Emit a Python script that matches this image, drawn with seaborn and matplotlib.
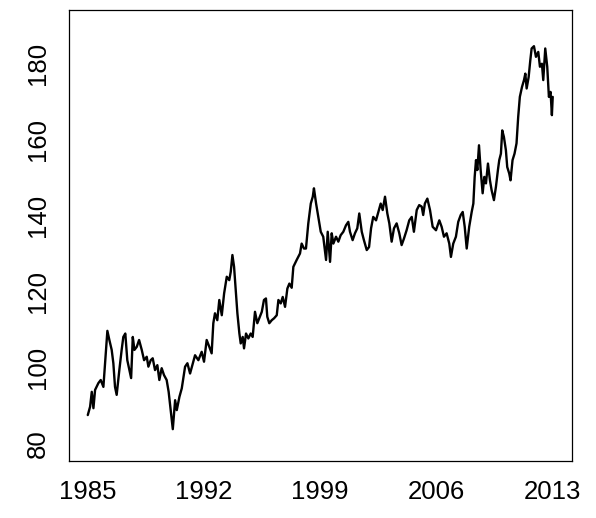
import seaborn as sns
import matplotlib
matplotlib.use("Agg")
import matplotlib.pyplot as plt

# values (year, index level)
years = [
    1985.00, 1985.14, 1985.24, 1985.34, 1985.44, 1985.64, 1985.78, 1985.94,
    1986.04, 1986.18, 1986.30, 1986.44, 1986.54, 1986.64, 1986.74, 1986.90,
    1987.04, 1987.14, 1987.26, 1987.38, 1987.51, 1987.61, 1987.71, 1987.81, 1987.95,
    1988.09, 1988.25, 1988.39, 1988.55, 1988.65, 1988.79, 1988.91,
    1989.05, 1989.19, 1989.31, 1989.45, 1989.59, 1989.75, 1989.87, 1989.99,
    1990.12, 1990.26, 1990.36, 1990.52, 1990.66, 1990.86,
    1991.00, 1991.16, 1991.46, 1991.66, 1991.86,
    1992.00, 1992.16, 1992.32, 1992.46, 1992.56, 1992.66, 1992.80, 1992.92,
    1993.07, 1993.21, 1993.37, 1993.52, 1993.61, 1993.71, 1993.81, 1993.91,
    1994.01, 1994.13, 1994.21, 1994.33, 1994.41, 1994.53, 1994.67, 1994.81, 1994.93,
    1995.07, 1995.21, 1995.33, 1995.48, 1995.61, 1995.73, 1995.81, 1995.93,
    1996.08, 1996.22, 1996.38, 1996.48, 1996.62, 1996.74, 1996.88,
    1997.02, 1997.14, 1997.28, 1997.38, 1997.58, 1997.78, 1997.88,
    1998.02, 1998.14, 1998.28, 1998.43, 1998.55, 1998.62, 1998.75, 1998.88,
    1999.03, 1999.18, 1999.35, 1999.45, 1999.59, 1999.69, 1999.79, 1999.95,
    2000.09, 2000.23, 2000.39, 2000.55, 2000.69, 2000.79, 2000.95,
    2001.09, 2001.23, 2001.35, 2001.50, 2001.63, 2001.80, 2001.94,
    2002.06, 2002.19, 2002.36, 2002.50, 2002.64, 2002.76, 2002.90,
    2003.04, 2003.16, 2003.30, 2003.44, 2003.60, 2003.76, 2003.90,
    2004.04, 2004.20, 2004.36, 2004.51, 2004.64, 2004.81, 2004.96,
    2005.11, 2005.20, 2005.30, 2005.45, 2005.61, 2005.77, 2005.97,
    2006.17, 2006.31, 2006.45, 2006.61, 2006.77, 2006.87,
    2007.01, 2007.17, 2007.31, 2007.46, 2007.58, 2007.70, 2007.82, 2007.97,
    2008.12, 2008.22, 2008.30, 2008.38, 2008.46, 2008.56, 2008.66, 2008.78, 2008.88, 2008.98,
    2009.10, 2009.22, 2009.32, 2009.46, 2009.58, 2009.70, 2009.78, 2009.88, 2009.96,
    2010.06, 2010.18, 2010.26, 2010.38, 2010.46, 2010.58, 2010.70, 2010.82, 2010.92,
    2011.02, 2011.15, 2011.27, 2011.35, 2011.43, 2011.55, 2011.65, 2011.73, 2011.87, 2011.99,
    2012.13, 2012.23, 2012.35, 2012.43, 2012.55, 2012.67, 2012.77, 2012.87, 2012.95,
    2013.00,
]
values = [
    87.6, 89.8, 93.7, 89.4, 94.2, 96.0, 96.8, 95.0,
    101.2, 109.7, 107.3, 104.7, 101.2, 95.0, 92.9, 99.4,
    104.7, 108.1, 109.0, 102.0, 99.4, 97.3, 108.1, 104.7, 105.5,
    107.3, 104.7, 102.0, 102.9, 100.3, 102.0, 102.5,
    99.4, 100.7, 96.8, 99.9, 98.1, 96.8, 93.7, 88.9,
    83.9, 91.5, 88.9, 92.4, 94.6, 100.3,
    101.2, 98.5, 103.3, 102.0, 104.2,
    101.6, 107.3, 105.5, 103.8, 111.7, 114.3, 112.5, 117.8,
    113.8, 119.5, 123.9, 123.0, 125.2, 129.6, 126.5, 120.4,
    114.3, 109.0, 106.4, 108.1, 105.1, 109.0, 107.7, 109.0, 108.1,
    114.7, 111.7, 113.0, 114.7, 117.8, 118.2, 113.4, 111.7,
    112.5, 113.0, 113.8, 117.8, 116.9, 118.6, 116.0,
    120.8, 122.1, 121.0, 126.5, 128.3, 130.0, 132.6,
    131.3, 131.3, 137.9, 143.1, 144.9, 147.1, 143.1, 139.6,
    135.7, 134.4, 128.3, 135.7, 127.8, 135.3, 132.6, 134.4,
    133.1, 134.8, 135.7, 137.4, 138.3, 135.7, 133.5,
    135.3, 136.6, 140.5, 135.7, 133.5, 130.9, 131.7,
    136.6, 139.6, 138.7, 140.9, 143.1, 141.4, 144.9,
    140.5, 137.9, 133.1, 136.6, 137.9, 135.3, 132.2,
    133.9, 136.1, 138.7, 139.6, 135.7, 141.4, 142.7,
    142.3, 140.1, 143.1, 144.4, 141.4, 137.0, 136.1,
    138.7, 137.0, 134.4, 135.3, 132.6, 129.1,
    132.6, 134.4, 138.3, 140.1, 140.9, 137.0, 131.3, 137.0,
    140.9, 143.1, 150.1, 154.5, 151.9, 158.4, 151.9, 145.8, 150.1, 148.4,
    153.6, 149.2, 146.6, 144.0, 147.5, 151.9, 154.5, 156.2, 162.3,
    160.6, 157.1, 152.7, 151.0, 149.2, 154.5, 156.2, 158.9, 165.8,
    171.1, 173.7, 175.5, 177.2, 173.3, 176.3, 180.7, 183.8, 184.4, 181.6,
    182.9, 179.0, 179.8, 175.5, 183.8, 179.0, 171.1, 172.4, 166.3,
    171.1,
]
x_ticks = [1985, 1992, 1999, 2006, 2013]
y_ticks = [80, 100, 120, 140, 160, 180]

sns.set_style("white")
plt.rcParams["font.family"] = ["Liberation Sans", "DejaVu Sans"]

fig = plt.figure(figsize=(5.96, 5.18), dpi=100)
ax = fig.add_axes([0.1158, 0.110, 0.8439, 0.8700])

sns.lineplot(x=years, y=values, ax=ax, color="black", linewidth=1.7)

ax.set_xlim(1983.87, 2014.16)
ax.set_ylim(75.54, 193.8)
ax.set_xticks(x_ticks)
ax.set_yticks(y_ticks)
ax.set_xticklabels([str(t) for t in x_ticks])
ax.set_yticklabels([str(t) for t in y_ticks])
plt.setp(ax.get_yticklabels(), rotation=90, va="center")

ax.tick_params(axis="both", direction="out", length=9.5, width=0.8,
               color="black", labelsize=18.5, labelcolor="black")
ax.tick_params(axis="x", pad=4.5)
ax.tick_params(axis="y", pad=4.0)
ax.set_xlabel("")
ax.set_ylabel("")
for sp in ax.spines.values():
    sp.set_visible(True)
    sp.set_color("black")
    sp.set_linewidth(0.9)

fig.savefig("out.png", dpi=100)
